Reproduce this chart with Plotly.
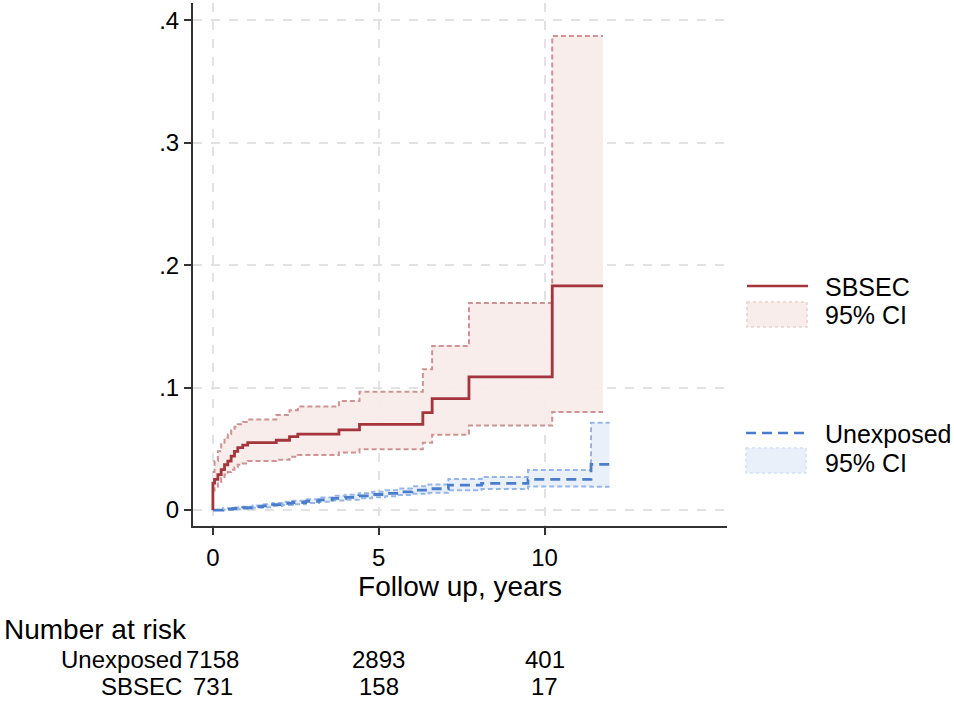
import plotly.graph_objects as go

# ---- data ----
red_t   = [0, 0.05, 0.15, 0.25, 0.35, 0.45, 0.55, 0.65, 0.75, 0.90, 1.05, 1.91, 2.31, 2.56, 3.80, 4.42, 6.33, 6.61, 7.72, 10.23, 11.76]
red_est = [0.022, 0.025, 0.029, 0.033, 0.037, 0.040, 0.044, 0.048, 0.051, 0.053, 0.055, 0.057, 0.060, 0.062, 0.0655, 0.070, 0.0796, 0.091, 0.1087, 0.183, 0.183]
red_lo  = [0.016, 0.019, 0.023, 0.026, 0.029, 0.031, 0.033, 0.035, 0.037, 0.038, 0.040, 0.041, 0.0435, 0.045, 0.047, 0.0497, 0.055, 0.0614, 0.069, 0.080, 0.080]
red_hi  = [0.031, 0.040, 0.048, 0.054, 0.059, 0.062, 0.065, 0.068, 0.070, 0.072, 0.074, 0.0776, 0.0816, 0.0845, 0.089, 0.0967, 0.115, 0.134, 0.169, 0.387, 0.387]

blue_t   = [0, 0.3, 0.6, 0.9, 1.2, 1.5, 1.8, 2.1, 2.4, 2.8, 3.2, 3.6, 4.0, 4.4, 4.8, 5.2, 5.6, 6.0, 6.5, 7.1, 8.1, 9.5, 11.4, 11.96]
blue_est = [0, 0.0008, 0.0013, 0.0019, 0.0028, 0.0035, 0.0045, 0.0054, 0.0062, 0.0072, 0.0084, 0.0096, 0.0104, 0.0116, 0.0127, 0.0137, 0.0149, 0.0163, 0.0174, 0.0204, 0.0218, 0.0250, 0.0373, 0.0373]
blue_lo  = [0, 0.0003, 0.0006, 0.0011, 0.0018, 0.0024, 0.0033, 0.0041, 0.0048, 0.0057, 0.0067, 0.0078, 0.0085, 0.0096, 0.0105, 0.0113, 0.0123, 0.0134, 0.0142, 0.0162, 0.0172, 0.0193, 0.0190, 0.0190]
blue_hi  = [0, 0.0015, 0.0021, 0.0028, 0.0038, 0.0047, 0.0058, 0.0068, 0.0077, 0.0088, 0.0102, 0.0116, 0.0125, 0.0138, 0.0150, 0.0162, 0.0176, 0.0194, 0.0208, 0.0253, 0.0270, 0.0327, 0.0713, 0.0713]

x_ticks = [0, 5, 10]
y_ticks = [0, 0.1, 0.2, 0.3, 0.4]
y_tick_labels = ["0", ".1", ".2", ".3", ".4"]

risk_times = [0, 5, 10]
risk_groups = ["Unexposed", "SBSEC"]
risk_unexposed = [7158, 2893, 401]
risk_sbsec = [731, 158, 17]

legend_labels = ["SBSEC", "95% CI", "Unexposed", "95% CI"]

# ---- styles ----
FONT = "Liberation Sans, Arial, sans-serif"
RED = "rgb(165,52,60)"
RED_FILL = "rgba(248,236,234,0.95)"
RED_CI = "rgb(208,146,146)"
BLUE = "rgb(74,126,204)"
BLUE_FILL = "rgba(233,239,250,0.95)"
BLUE_CI = "rgb(150,182,232)"
GRID = "rgb(226,226,226)"
AX = "rgb(50,50,50)"

fig = go.Figure()

# red CI band
fig.add_trace(go.Scatter(x=red_t, y=red_lo, mode="lines", line=dict(color=RED_CI, width=2, dash="5px,3px", shape="hv"),
                         hoverinfo="skip"))
fig.add_trace(go.Scatter(x=red_t, y=red_hi, mode="lines", line=dict(color=RED_CI, width=2, dash="5px,3px", shape="hv"),
                         fill="tonexty", fillcolor=RED_FILL, hoverinfo="skip"))
# blue CI band
fig.add_trace(go.Scatter(x=blue_t, y=blue_lo, mode="lines", line=dict(color=BLUE_CI, width=2, dash="5px,3px", shape="hv"),
                         hoverinfo="skip"))
fig.add_trace(go.Scatter(x=blue_t, y=blue_hi, mode="lines", line=dict(color=BLUE_CI, width=2, dash="5px,3px", shape="hv"),
                         fill="tonexty", fillcolor=BLUE_FILL, hoverinfo="skip"))
# estimates
fig.add_trace(go.Scatter(x=[0] + blue_t, y=[0] + blue_est, mode="lines",
                         line=dict(color=BLUE, width=2.8, dash="10px,6px", shape="hv")))
fig.add_trace(go.Scatter(x=[0] + red_t, y=[0] + red_est, mode="lines",
                         line=dict(color=RED, width=2.8, shape="hv")))

# plot area in pixels
L, R, T, B = 193, 227, 3, 175
W, H = 954, 701
pw, ph = W - L - R, H - T - B


def px(xp):
    return (xp - L) / pw


def py(yp):
    return (H - B - yp) / ph


# ---- legend drawn manually ----
shapes = []
annotations = []
shapes.append(dict(type="line", xref="paper", yref="paper", x0=px(747), x1=px(808), y0=py(286), y1=py(286),
                   line=dict(color=RED, width=2.5)))
shapes.append(dict(type="rect", xref="paper", yref="paper", x0=px(747), x1=px(807), y0=py(302), y1=py(327),
                   fillcolor=RED_FILL, line=dict(color="rgb(236,205,205)", width=1.5, dash="dot")))
shapes.append(dict(type="line", xref="paper", yref="paper", x0=px(746), x1=px(808), y0=py(433), y1=py(433),
                   line=dict(color=BLUE, width=2.5, dash="10px,6px")))
shapes.append(dict(type="rect", xref="paper", yref="paper", x0=px(746), x1=px(806), y0=py(448), y1=py(473),
                   fillcolor=BLUE_FILL, line=dict(color="rgb(212,224,245)", width=1.5, dash="dot")))
for lab, yy in zip(legend_labels, [287, 315, 434, 463]):
    annotations.append(dict(text=lab, xref="paper", yref="paper", x=px(823), y=py(yy), xanchor="left", yanchor="middle",
                            showarrow=False, font=dict(family=FONT, size=25, color="black")))

# ---- number at risk table ----
annotations.append(dict(text="Number at risk", xref="paper", yref="paper", x=px(2), y=py(629), xanchor="left",
                        yanchor="middle", showarrow=False, font=dict(family=FONT, size=28, color="black")))
for grp, vals, yy in zip(risk_groups, [risk_unexposed, risk_sbsec], [659, 686]):
    annotations.append(dict(text=grp, xref="paper", yref="paper", x=px(184), y=py(yy), xanchor="right",
                            yanchor="middle", showarrow=False, font=dict(family=FONT, size=24, color="black")))
    for t, v in zip(risk_times, vals):
        annotations.append(dict(text=str(v), xref="x", yref="paper", x=t, y=py(yy), xanchor="center",
                                yanchor="middle", showarrow=False, font=dict(family=FONT, size=24, color="black")))

fig.update_layout(
    width=W, height=H, autosize=False,
    margin=dict(l=L, r=R, t=T, b=B, pad=0),
    paper_bgcolor="white", plot_bgcolor="white",
    showlegend=False,
    shapes=shapes, annotations=annotations,
    font=dict(family=FONT, color="black"),
    xaxis=dict(range=[-0.6, 15.5], tickvals=x_ticks, ticks="outside", ticklen=7, tickwidth=2, tickcolor=AX,
               showline=True, linecolor=AX, linewidth=2, showgrid=True, gridcolor=GRID, gridwidth=2, griddash="dash",
               zeroline=False, tickfont=dict(family=FONT, size=24, color="black"), ticklabelstandoff=2,
               title=dict(text="Follow up, years", font=dict(family=FONT, size=28, color="black"), standoff=6)),
    yaxis=dict(range=[-0.013, 0.414], tickvals=y_ticks, ticktext=y_tick_labels, ticks="outside", ticklen=7,
               tickwidth=2, tickcolor=AX, showline=True, linecolor=AX, linewidth=2, showgrid=True, gridcolor=GRID,
               gridwidth=2, griddash="dash", zeroline=False, tickfont=dict(family=FONT, size=24, color="black"),
               ticklabelstandoff=0),
)

fig.write_html("out.html", config={"displayModeBar": False},
               post_script="document.body.style.margin='0px';document.body.style.padding='0px';"
                           "document.body.style.overflow='hidden';")
